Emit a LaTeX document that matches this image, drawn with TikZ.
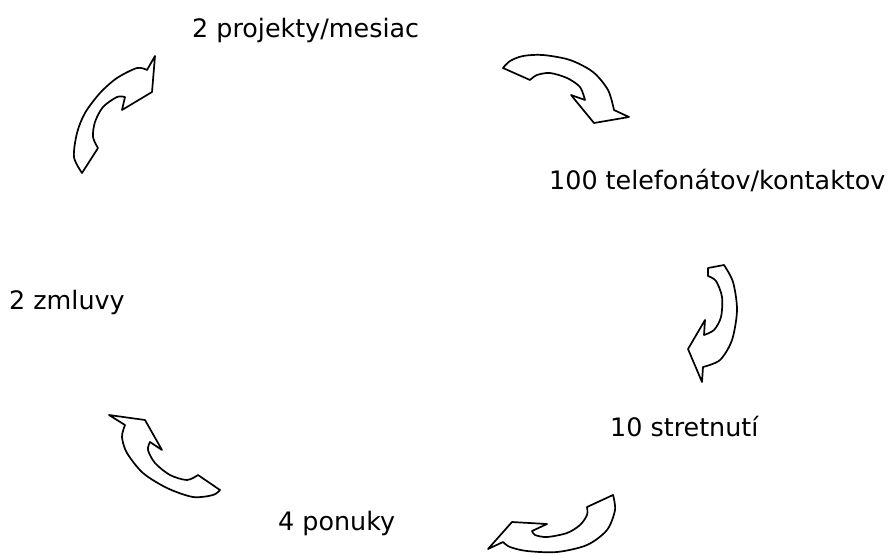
\documentclass[tikz,border=0pt]{standalone}
\usepackage{fontspec}
\setmainfont{DejaVu Sans}
\begin{document}
\begin{tikzpicture}[x=1pt,y=-1pt,
  arrowshape/.style={draw=black, line width=1.7pt, line join=round, fill=white},
  lbl/.style={inner sep=0pt, anchor=base west, font=\fontsize{25.4}{30}\selectfont}]
\useasboundingbox (0,0) rectangle (893,555);

% labels
\node[lbl] (t1) at (192,37) {2 projekty/mesiac};
\node[lbl] (t2) at (549,189) {100 telefonátov/kontaktov};
\node[lbl] (t3) at (610,436) {10 stretnutí};
\node[lbl] (t4) at (278,530) {4 ponuky};
\node[lbl] (t5) at (9,309) {2 zmluvy};

% arrow top-left
\draw[arrowshape] (155,56) -- (147,70) -- plot[smooth] coordinates {(147,70) (137,68) (117,78) (100,93) (85,113) (77,133) (74,157) (82,173)} -- (98,148) -- plot[smooth] coordinates {(98,148) (93,137) (95,122) (103,107) (117,97) (125,97)} -- (122,110) -- (152,92) -- cycle;

% arrow top-right
\draw[arrowshape] (503,68) -- plot[smooth] coordinates {(503,68) (510,61) (523,56) (543,55) (570,60) (593,72) (608,90) (614,110)} -- (629,117) -- (594,123) -- (571,95) -- plot[smooth] coordinates {(585,100) (580,87) (567,78) (550,73) (537,75) (530,80)} -- cycle;

% arrow right
\draw[arrowshape] (708,268) -- (708,276) -- plot[smooth] coordinates {(708,276) (716,281) (722,297) (721,317) (714,330) (704,335)} -- (705,320) -- (688,349) -- (702,382) -- plot[smooth] coordinates {(703,367) (720,360) (732,340) (737,310) (733,282) (724,265)} -- cycle;

% arrow bottom-right
\draw[arrowshape] (587,507) -- (613,495) -- plot[smooth] coordinates {(613,495) (615,510) (607,530) (587,545) (557,552) (527,551) (510,547) (503,542)} -- (488,549) -- (512,522) -- (547,524) -- plot[smooth] coordinates {(532,531) (535,535) (547,537) (567,533) (580,525) (587,515) (587,507)} -- cycle;

% arrow bottom-left
\draw[arrowshape] (109,415) -- (145,420) -- (162,450) -- (150,442) -- plot[smooth] coordinates {(150,442) (148,450) (155,463) (170,475) (187,480) (198,475)} -- (220,490) -- plot[smooth] coordinates {(220,490) (213,495) (193,497) (167,488) (143,473) (127,453) (122,437) (125,425)} -- cycle;
\end{tikzpicture}
\end{document}
